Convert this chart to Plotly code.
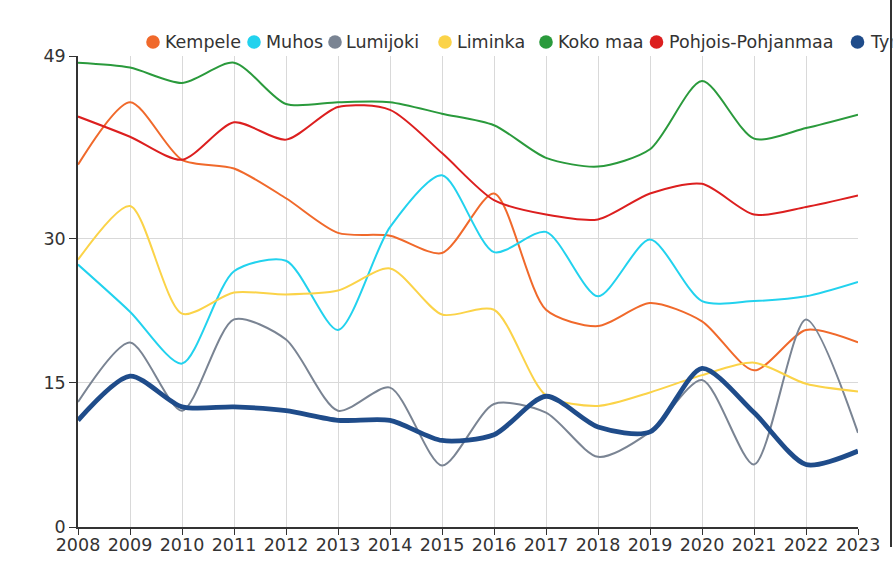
import plotly.graph_objects as go

years = list(range(2008, 2024))

kempele = [37.7, 44.2, 38.2, 37.3, 34.2, 30.6, 30.3, 28.5, 34.7, 22.6, 20.9, 23.3, 21.4, 16.3, 20.5, 19.2]
muhos = [27.3, 22.4, 17.0, 26.6, 27.7, 20.5, 31.2, 36.6, 28.6, 30.7, 24.0, 29.9, 23.5, 23.5, 24.0, 25.5]
lumijoki = [13.0, 19.2, 12.1, 21.6, 19.5, 12.1, 14.5, 6.4, 12.8, 11.9, 7.3, 9.9, 15.3, 6.5, 21.6, 9.8]
liminka = [27.8, 33.4, 22.2, 24.4, 24.2, 24.6, 26.9, 22.1, 22.6, 13.7, 12.6, 14.0, 15.8, 17.1, 14.9, 14.1]
koko_maa = [48.3, 47.8, 46.2, 48.3, 44.0, 44.2, 44.2, 43.0, 41.8, 38.4, 37.5, 39.3, 46.4, 40.4, 41.5, 42.9]
pohjois = [42.7, 40.6, 38.2, 42.1, 40.3, 43.7, 43.4, 38.9, 34.0, 32.5, 32.0, 34.7, 35.7, 32.5, 33.3, 34.5]
tyrnava = [11.1, 15.7, 12.5, 12.5, 12.1, 11.1, 11.1, 9.0, 9.6, 13.6, 10.4, 9.9, 16.5, 11.9, 6.5, 7.9]

names = ["Kempele", "Muhos", "Lumijoki", "Liminka", "Koko maa", "Pohjois-Pohjanmaa", "Tyrnävä"]
series = [kempele, muhos, lumijoki, liminka, koko_maa, pohjois, tyrnava]
colors = ["#F0692B", "#22D2EE", "#7A8493", "#FBD348", "#2A9A3C", "#DC1F1F", "#1F4C8A"]
widths = [2, 2, 2, 2, 2, 2, 4.8]

y_ticks = [0, 15, 30, 49]

FONT = "DejaVu Sans"

fig = go.Figure()
for n, s, c, w in zip(names, series, colors, widths):
    fig.add_trace(go.Scatter(x=years, y=s, name=n, mode="lines",
                             line=dict(color=c, width=w, shape="spline", smoothing=0.75),
                             showlegend=False))

FW, FH = 894, 565
# plot area in page pixels
L, T, W, H = 78, 56, 780, 471
def px_x(p):
    return (p - L) / W
def px_y(p):
    return (T + H - p) / H

legend_circles = [153, 254, 335, 445, 546, 656.5, 857.5]
legend_texts = [162.5, 263.5, 344, 455, 556, 666.5, 867.5]
ly = 42
r = 6.8
shapes = []
annotations = []
for cx, tx, n, c in zip(legend_circles, legend_texts, names, colors):
    shapes.append(dict(type="circle", xref="paper", yref="paper",
                       x0=px_x(cx - r), x1=px_x(cx + r), y0=px_y(ly + r), y1=px_y(ly - r),
                       fillcolor=c, line=dict(width=0)))
    annotations.append(dict(text=n, xref="paper", yref="paper", x=px_x(tx), y=px_y(ly),
                            xanchor="left", yanchor="middle", showarrow=False,
                            font=dict(family=FONT, size=17.5, color="#333333")))
# cover the overflow of the last legend entry and draw the right frame line
annotations.append(dict(text=" ", xref="paper", yref="paper", x=px_x(891.5), y=px_y(ly),
                        xanchor="left", yanchor="middle", showarrow=False, width=12, height=30,
                        bgcolor="white", borderpad=0, font=dict(size=10)))
shapes.append(dict(type="line", xref="paper", yref="paper", x0=px_x(891), x1=px_x(891),
                   y0=px_y(547), y1=px_y(0), line=dict(color="#333333", width=2)))

fig.update_layout(
    width=FW, height=FH,
    margin=dict(l=L, r=FW - L - W, t=T, b=FH - T - H, autoexpand=False),
    paper_bgcolor="white", plot_bgcolor="white",
    font=dict(family=FONT, size=17.5, color="#333333"),
    shapes=shapes, annotations=annotations,
    hovermode=False,
    xaxis=dict(range=[2008, 2023], tickvals=years, ticktext=[str(y) for y in years],
               automargin=False,
               showgrid=True, gridcolor="#d9d9d9", gridwidth=1,
               showline=True, linecolor="#333333", linewidth=1.5,
               ticks="outside", ticklen=6, tickcolor="#333333", zeroline=False,
               ticklabelstandoff=-5,
               tickfont=dict(family=FONT, size=17.5, color="#333333")),
    yaxis=dict(range=[0, 49], tickvals=y_ticks, ticktext=[str(v) for v in y_ticks],
               automargin=False,
               showgrid=True, gridcolor="#d9d9d9", gridwidth=1,
               showline=True, linecolor="#333333", linewidth=1.5,
               ticks="outside", ticklen=7, tickcolor="#333333", zeroline=False,
               tickfont=dict(family=FONT, size=17.5, color="#333333")),
)
fig.write_html(
    "out.html",
    config={"displayModeBar": False},
    post_script="document.body.style.margin='0';"
                "document.body.style.overflow='hidden';"
                "document.documentElement.style.overflow='hidden';",
)
